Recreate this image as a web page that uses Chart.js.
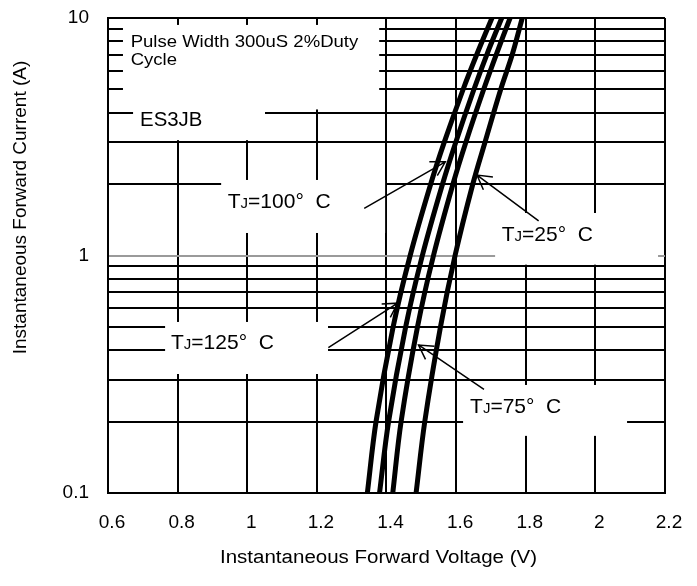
<!DOCTYPE html>
<html>
<head>
<meta charset="utf-8">
<script src="https://cdn.jsdelivr.net/npm/chart.js@4.4.1/dist/chart.umd.min.js"></script>
<style>
  html, body { margin: 0; padding: 0; background: #fff; }
</style>
</head>
<body>
<canvas id="chart" width="697" height="586"></canvas>
<script>
// forward current (A) at which the voltage of each curve was read
const current = [0.1, 0.2, 0.5, 1, 2, 3, 5, 7, 10];
// forward voltage (V) for each junction temperature
const vf125 = [1.345, 1.370, 1.419, 1.468, 1.527, 1.566, 1.620, 1.659, 1.703];
const vf100 = [1.380, 1.406, 1.455, 1.503, 1.561, 1.599, 1.651, 1.688, 1.731];
const vf75  = [1.418, 1.442, 1.489, 1.535, 1.591, 1.628, 1.679, 1.715, 1.755];
const vf25  = [1.485, 1.510, 1.555, 1.597, 1.648, 1.683, 1.728, 1.761, 1.790];

const xTicks = [0.6, 0.8, 1, 1.2, 1.4, 1.6, 1.8, 2, 2.2];
const yLabels = [0.1, 1, 10];

const FONT = '"Liberation Sans", Arial, sans-serif';

// log grid: 1..9 in every decade, then the top
let yGrid = [];
for (let d of [0.1, 1]) {
  for (let k = 1; k < 10; k++) {
    yGrid.push(Number((k * d).toFixed(2)));
  }
}
yGrid.push(10);

function points(vf) {
  return vf.map((v, i) => ({x: v, y: current[i]}));
}

// white patches behind the notes: [vLeft, vRight, iTop, iBottom]
const noteBoxes = [
  [0.643, 1.379, 9.35, 4.12],
  [0.672, 1.051, 4.5, 3.06],
  [0.925, 1.396, 2.08, 1.244],
  [1.712, 2.18, 1.51, 0.915],
  [0.764, 1.232, 0.525, 0.317],
  [1.620, 2.091, 0.285, 0.174]
];

// temperature notes: text origin and arrow (tail -> tip), all in V / A
const tempNotes = [
  {t: '100', at: [0.944, 1.58], tail: [1.336, 1.58], tip: [1.569, 2.48]},
  {t: '25', at: [1.731, 1.154], tail: [1.837, 1.40], tip: [1.660, 2.18]},
  {t: '125', at: [0.781, 0.404], tail: [1.233, 0.409], tip: [1.432, 0.630]},
  {t: '75', at: [1.640, 0.2166], tail: [1.680, 0.273], tip: [1.492, 0.420]}
];

function px(chart, v, i) {
  return [chart.scales.x.getPixelForValue(v), chart.scales.y.getPixelForValue(i)];
}

function drawArrow(ctx, x0, y0, x1, y1) {
  let a = Math.atan2(y0 - y1, x0 - x1);
  let L = 16, h = Math.PI / 6;
  ctx.beginPath();
  ctx.moveTo(x0, y0);
  ctx.lineTo(x1, y1);
  ctx.moveTo(x1 + L * Math.cos(a + h), y1 + L * Math.sin(a + h));
  ctx.lineTo(x1, y1);
  ctx.lineTo(x1 + L * Math.cos(a - h), y1 + L * Math.sin(a - h));
  ctx.stroke();
}

function drawTJ(ctx, x, y, temp, size) {
  ctx.save();
  ctx.translate(x, y);
  ctx.font = size + 'px ' + FONT;
  ctx.fillText('T', 0, 0);
  let w = ctx.measureText('T').width;
  ctx.font = Math.round(size * 0.72) + 'px ' + FONT;
  ctx.fillText('J', w, 0);
  w += ctx.measureText('J').width;
  ctx.font = size + 'px ' + FONT;
  ctx.fillText('=' + temp + '°  C', w, 0);
  ctx.restore();
}

function stretchedText(ctx, str, x, y, size, sx) {
  ctx.save();
  ctx.translate(x, y);
  ctx.scale(sx, 1);
  ctx.font = size + 'px ' + FONT;
  ctx.fillText(str, 0, 0);
  ctx.restore();
}

const notesPlugin = {
  id: 'notes',
  beforeDatasetsDraw(chart) {
    let ctx = chart.ctx;
    ctx.save();
    ctx.fillStyle = '#fff';
    for (let b of noteBoxes) {
      let p0 = px(chart, b[0], b[2]);
      let p1 = px(chart, b[1], b[3]);
      ctx.fillRect(p0[0], p0[1], p1[0] - p0[0], p1[1] - p0[1]);
    }
    ctx.restore();
  },
  afterDatasetsDraw(chart) {
    let ctx = chart.ctx;
    let area = chart.chartArea;
    ctx.save();
    ctx.fillStyle = '#000';
    ctx.strokeStyle = '#000';
    ctx.lineWidth = 1.5;
    ctx.textAlign = 'left';
    ctx.textBaseline = 'alphabetic';

    let p = px(chart, 0.665, 7.57);
    stretchedText(ctx, 'Pulse Width 300uS 2%Duty', p[0], p[1], 17, 1.09);
    p = px(chart, 0.665, 6.34);
    stretchedText(ctx, 'Cycle', p[0], p[1], 17, 1.09);
    p = px(chart, 0.692, 3.51);
    stretchedText(ctx, 'ES3JB', p[0], p[1], 20, 1.02);

    for (let n of tempNotes) {
      let a = px(chart, n.at[0], n.at[1]);
      drawTJ(ctx, a[0], a[1], n.t, 21);
      let t0 = px(chart, n.tail[0], n.tail[1]);
      let t1 = px(chart, n.tip[0], n.tip[1]);
      drawArrow(ctx, t0[0], t0[1], t1[0], t1[1]);
    }

    // axis titles
    ctx.textAlign = 'center';
    ctx.save();
    ctx.translate((area.left + area.right) / 2 - 8, area.bottom + 70);
    ctx.scale(1.14, 1);
    ctx.font = '18px ' + FONT;
    ctx.fillText('Instantaneous Forward Voltage (V)', 0, 0);
    ctx.restore();

    ctx.save();
    ctx.translate(21, (area.top + area.bottom) / 2 - 48);
    ctx.rotate(-Math.PI / 2);
    ctx.textBaseline = 'middle';
    ctx.font = '19px ' + FONT;
    ctx.fillText('Instantaneous Forward Current (A)', 0, 0);
    ctx.restore();

    ctx.restore();
  }
};

function curve(label, vf) {
  return {
    label: label,
    data: points(vf),
    borderColor: '#000',
    borderWidth: 5,
    pointRadius: 0,
    fill: false,
    tension: 0.35
  };
}

let myChart = new Chart(document.getElementById('chart').getContext('2d'), {
  type: 'line',
  data: {
    datasets: [
      curve('TJ=125°C', vf125),
      curve('TJ=100°C', vf100),
      curve('TJ=75°C', vf75),
      curve('TJ=25°C', vf25)
    ]
  },
  options: {
    responsive: false,
    animation: false,
    devicePixelRatio: 1,
    layout: {padding: {top: 18, right: 32, left: 0, bottom: 0}},
    plugins: {
      legend: {display: false},
      tooltip: {enabled: false}
    },
    scales: {
      x: {
        type: 'linear',
        min: 0.6,
        max: 2.2,
        afterBuildTicks: s => { s.ticks = xTicks.map(v => ({value: v})); },
        afterFit: s => { s.height = 93; },
        grid: {color: '#000', lineWidth: 2, drawTicks: false},
        border: {color: '#000', width: 2},
        ticks: {
          color: '#000',
          font: {family: FONT, size: 19},
          padding: 18,
          labelOffset: 4,
          autoSkip: false,
          maxRotation: 0,
          callback: v => String(Number(v.toFixed(1)))
        }
      },
      y: {
        type: 'logarithmic',
        min: 0.1,
        max: 10,
        afterBuildTicks: s => { s.ticks = yGrid.map(v => ({value: v})); },
        afterFit: s => {
          s.width = 108;
          s.paddingTop = 0;
          s.paddingBottom = 0;
        },
        grid: {
          color: c => (c.tick && c.tick.value === 1) ? '#9a9a9a' : '#000',
          lineWidth: 2,
          drawTicks: false
        },
        border: {color: '#000', width: 2},
        ticks: {
          color: '#000',
          font: {family: FONT, size: 19},
          padding: 19,
          autoSkip: false,
          callback: v => yLabels.includes(v) ? String(v) : ''
        }
      }
    }
  },
  plugins: [notesPlugin]
});
</script>
</body>
</html>
